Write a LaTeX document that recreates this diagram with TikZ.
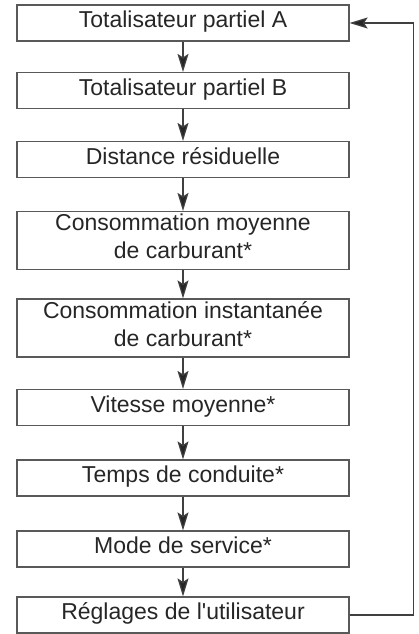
\documentclass[tikz,border=0pt]{standalone}
\usepackage{fontspec}
\setmainfont{Liberation Sans}
\usetikzlibrary{arrows.meta}

\tikzset{
    menubox/.style={draw=black!65, line width=1.2pt, minimum width=332pt, minimum height=36pt,
        inner sep=0pt, align=center, text=black!85, font=\fontsize{23}{28}\selectfont,
        text height=16pt, text depth=7pt},
    tallbox/.style={menubox, minimum height=58pt, text height=, text depth=8pt},
    arr/.style={draw=black!75, line width=1.2pt, -{Stealth[length=18pt,width=11pt,inset=3.5pt,fill=black!85]}}
}

\begin{document}
\begin{tikzpicture}[x=1pt,y=1pt]

        \useasboundingbox (0,0) rectangle (418,-634);

        % Draw menu boxes
        \node[menubox] (totA) at (183,-23) {Totalisateur partiel A};
        \node[menubox] (totB) at (183,-90.5) {Totalisateur partiel B};
        \node[menubox] (dist) at (183,-159.5) {Distance résiduelle};
        \node[tallbox] (consmoy) at (183,-240.5) {Consommation moyenne\\de carburant*};
        \node[tallbox] (consinst) at (183,-328) {Consommation instantanée\\de carburant*};
        \node[menubox] (vit) at (183,-407.5) {Vitesse moyenne*};
        \node[menubox] (temps) at (183,-478) {Temps de conduite*};
        \node[menubox] (mode) at (183,-549) {Mode de service*};
        \node[menubox] (regl) at (183,-615) {Réglages de l\textquotesingle utilisateur};

        % Draw arrows between boxes
        \foreach \a/\b in {totA/totB, totB/dist, dist/consmoy, consmoy/consinst,
                           consinst/vit, vit/temps, temps/mode, mode/regl} {
            \draw[arr] (\a) -- (\b);
        }

        % Draw loop back to the top
        \draw[arr] (regl.east) -- ++(64,0) |- (totA.east);

    \end{tikzpicture}
\end{document}
